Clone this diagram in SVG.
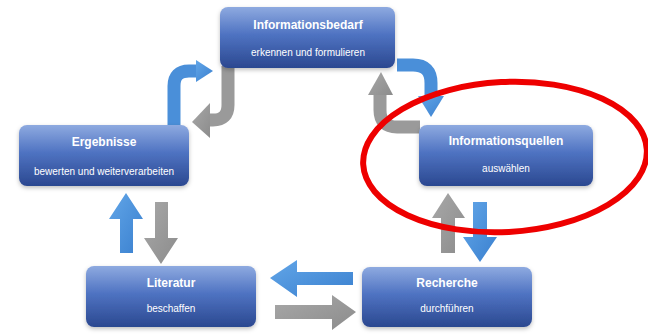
<svg xmlns="http://www.w3.org/2000/svg" width="648" height="334" viewBox="0 0 648 334">
<defs>
<linearGradient id="boxg" x1="0" y1="0" x2="0" y2="1">
<stop offset="0" stop-color="#8eaae0"/>
<stop offset="0.45" stop-color="#4f73c2"/>
<stop offset="1" stop-color="#2b4890"/>
</linearGradient>
<linearGradient id="blueg" x1="0" y1="0" x2="1" y2="1">
<stop offset="0" stop-color="#62a6e8"/>
<stop offset="1" stop-color="#3a80cf"/>
</linearGradient>
<linearGradient id="grayg" x1="0" y1="0" x2="1" y2="1">
<stop offset="0" stop-color="#a8a8a8"/>
<stop offset="1" stop-color="#8c8c8c"/>
</linearGradient>
<filter id="sh" x="-10%" y="-10%" width="120%" height="130%">
<feDropShadow dx="0" dy="2" stdDeviation="2" flood-color="#000" flood-opacity="0.25"/>
</filter>
</defs>
<style>
.box{fill:url(#boxg);filter:url(#sh)}
.t{font-family:"Liberation Sans",Arial,sans-serif;font-weight:bold;font-size:12px;fill:#fff;text-anchor:middle}
.s{font-family:"Liberation Sans",Arial,sans-serif;font-size:10px;fill:#fff;text-anchor:middle}
.ba{fill:url(#blueg)}
.ga{fill:url(#grayg)}
.bs{fill:none;stroke:#4a8fd9;stroke-width:13}
.gs{fill:none;stroke:#9a9a9a;stroke-width:13}
</style>
<rect width="648" height="334" fill="#fff"/>
<g id="connectors">
<path class="bs" d="M174,126 V86 Q174,71 189,71 H198"/>
<polygon class="ba" points="196,60 213,71 196,82"/>
<path class="gs" d="M228,66 V105 Q228,120 213,120 H209"/>
<polygon class="ga" points="210,103 192,122 210,138"/>
<path class="bs" d="M397,65 H413 Q431,65 431,83 V98"/>
<polygon class="ba" points="418,96 444,96 431,117"/>
<path class="gs" d="M420,127 H397 Q380,127 380,110 V93"/>
<polygon class="ga" points="368,95 381,72 393,95"/>
<polygon class="ba" points="126,193 143,219 133,219 133,253 120,253 120,219 109,219"/>
<polygon class="ga" points="155,202 168,202 168,238 178,238 161,264 144,238 155,238"/>
<polygon class="ba" points="270,278 297,260 297,272 353,272 353,285 297,285 297,297"/>
<polygon class="ga" points="275,305 332,305 332,295 356,312 332,330 332,319 275,319"/>
<polygon class="ga" points="448,193 465,218 455,218 455,253 441,253 441,218 432,218"/>
<polygon class="ba" points="473,202 487,202 487,237 497,237 480,262 463,237 473,237"/>
</g>
<g id="informationsbedarf">
<rect class="box" x="220" y="7" width="175" height="61" rx="8"/>
<text class="t" x="308" y="29">Informationsbedarf</text>
<text class="s" x="308" y="56">erkennen und formulieren</text>
</g>
<g id="ergebnisse">
<rect class="box" x="19" y="125" width="170" height="61" rx="8"/>
<text class="t" x="104" y="146">Ergebnisse</text>
<text class="s" x="104" y="175">bewerten und weiterverarbeiten</text>
</g>
<g id="informationsquellen">
<rect class="box" x="419" y="125" width="174" height="61" rx="8"/>
<text class="t" x="506" y="145">Informationsquellen</text>
<text class="s" x="506" y="172">auswählen</text>
</g>
<g id="literatur">
<rect class="box" x="86" y="266" width="170" height="61" rx="8"/>
<text class="t" x="171" y="287">Literatur</text>
<text class="s" x="171" y="312">beschaffen</text>
</g>
<g id="recherche">
<rect class="box" x="362" y="267" width="170" height="60" rx="8"/>
<text class="t" x="447" y="287">Recherche</text>
<text class="s" x="447" y="312">durchführen</text>
</g>
<g id="highlight">
<ellipse cx="505" cy="157" rx="142" ry="75" transform="rotate(-3 505 157)" fill="none" stroke="#ee0000" stroke-width="6"/>
</g>
</svg>
